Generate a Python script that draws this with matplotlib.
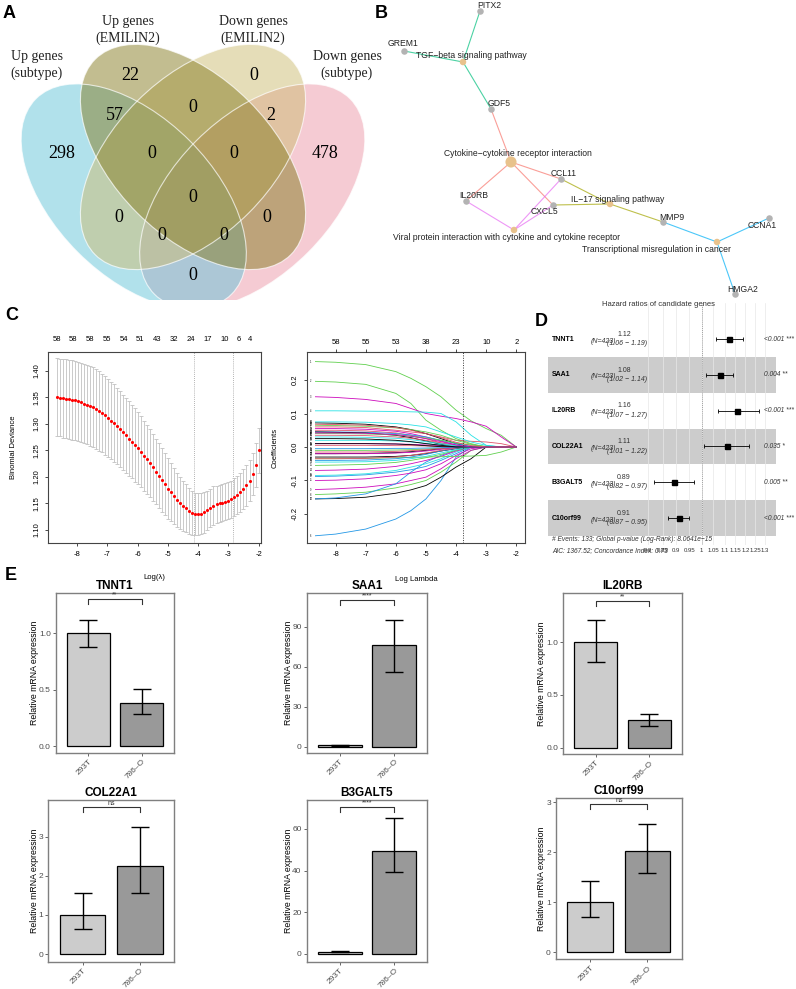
import numpy as np
import matplotlib
matplotlib.use("Agg")
import matplotlib.pyplot as plt
import matplotlib.transforms as mtransforms
from matplotlib.patches import Ellipse
from matplotlib.ticker import NullLocator

plt.rcParams["font.family"] = ["Liberation Sans", "DejaVu Sans"]
plt.rcParams["axes.unicode_minus"] = False

# ---------------- data ----------------
# A: Venn
VENN_SETS = ["Up genes\n(subtype)", "Up genes\n(EMILIN2)", "Down genes\n(EMILIN2)", "Down genes\n(subtype)"]
VENN_COLORS = ["#65C5D9", "#877D23", "#CDBD73", "#ED99A9"]
VENN_COUNTS = [298, 22, 0, 478, 57, 0, 2, 0, 0, 0, 0, 0, 0, 0, 0]

# B: gene-concept network
GENES = ["PITX2", "GREM1", "GDF5", "CCL11", "IL20RB", "CXCL5", "MMP9", "CCNA1", "HMGA2"]
PATHWAYS = ["TGF\u2212beta signaling pathway", "Cytokine\u2212cytokine receptor interaction",
            "IL\u221217 signaling pathway",
            "Viral protein interaction with cytokine and cytokine receptor",
            "Transcriptional misregulation in cancer"]
PATHWAY_GENES = [["PITX2", "GREM1", "GDF5"],
                 ["GDF5", "IL20RB", "CCL11", "CXCL5"],
                 ["CCL11", "CXCL5", "MMP9"],
                 ["IL20RB", "CCL11", "CXCL5"],
                 ["MMP9", "CCNA1", "HMGA2"]]
PATHWAY_COLORS = ["#00BF7D", "#F8766D", "#A3A500", "#E76BF3", "#00B0F6"]

# C left: cv.glmnet
CV_LOGLAM = [-8.67, -8.57, -8.47, -8.37, -8.27, -8.17, -8.07, -7.97, -7.87, -7.77,
             -7.67, -7.57, -7.48, -7.38, -7.28, -7.18, -7.08, -6.98, -6.88, -6.78,
             -6.68, -6.58, -6.48, -6.38, -6.28, -6.18, -6.08, -5.98, -5.88, -5.78,
             -5.68, -5.58, -5.48, -5.38, -5.29, -5.19, -5.09, -4.99, -4.89, -4.79,
             -4.69, -4.59, -4.49, -4.39, -4.29, -4.19, -4.09, -3.99, -3.89, -3.79,
             -3.69, -3.59, -3.49, -3.39, -3.29, -3.20, -3.10, -3.00, -2.90, -2.80,
             -2.70, -2.60, -2.50, -2.40, -2.30, -2.20, -2.10, -2.00]
CV_MEAN = [1.350, 1.349, 1.348, 1.347, 1.346, 1.345, 1.344, 1.342, 1.340, 1.338,
           1.336, 1.334, 1.331, 1.328, 1.324, 1.320, 1.316, 1.311, 1.306, 1.301,
           1.296, 1.290, 1.284, 1.278, 1.272, 1.266, 1.260, 1.254, 1.247, 1.240,
           1.233, 1.226, 1.218, 1.210, 1.202, 1.194, 1.186, 1.178, 1.171, 1.164,
           1.157, 1.151, 1.146, 1.141, 1.136, 1.132, 1.130, 1.130, 1.131, 1.133,
           1.137, 1.142, 1.146, 1.148, 1.150, 1.151, 1.153, 1.155, 1.158, 1.162,
           1.166, 1.171, 1.177, 1.184, 1.193, 1.205, 1.222, 1.250]
CV_SE = [0.073, 0.073, 0.074, 0.074, 0.074, 0.075, 0.075, 0.075, 0.075, 0.075,
         0.075, 0.075, 0.075, 0.075, 0.075, 0.074, 0.074, 0.074, 0.073, 0.073,
         0.072, 0.072, 0.071, 0.071, 0.070, 0.069, 0.069, 0.068, 0.067, 0.066,
         0.065, 0.064, 0.063, 0.062, 0.061, 0.060, 0.058, 0.057, 0.055, 0.053,
         0.051, 0.049, 0.047, 0.045, 0.043, 0.041, 0.040, 0.039, 0.038, 0.038,
         0.037, 0.036, 0.036, 0.035, 0.035, 0.035, 0.035, 0.035, 0.035, 0.036,
         0.036, 0.037, 0.038, 0.038, 0.039, 0.040, 0.041, 0.042]
CV_TOP_X = [-8.67, -8.12, -7.57, -7.02, -6.44, -5.91, -5.34, -4.79, -4.24, -3.69, -3.13, -2.66, -2.29]
CV_TOP_NZ = [58, 58, 58, 55, 54, 51, 43, 32, 24, 17, 10, 6, 4]
CV_LAMBDA_LINES = [-4.13, -2.84]

# C right: coefficient paths
COEF_X = [-8.67, -8.0, -7.0, -6.0, -5.5, -5.0, -4.5, -4.0, -3.5, -3.0, -2.5, -2.0]
R_PAL = ["black", "#DF536B", "#61D04F", "#2297E6", "#28E2E5", "#CD0BBC"]
COEF_COLOR_IDX = [2, 2, 5, 4, 1, 3, 0, 2, 5, 3, 5, 3, 4, 5, 2, 2, 0, 0, 0, 4, 2,
                  1, 5, 3, 0, 1, 4, 5, 1, 2, 3, 4, 5, 1, 0, 2, 1, 3, 4, 0, 5, 1]
COEF_PATHS = [
    [0.255, 0.253, 0.246, 0.225, 0.205, 0.180, 0.150, 0.110, 0.078, 0.055, 0.035, 0.0],
    [0.196, 0.194, 0.187, 0.160, 0.130, 0.080, 0.050, 0.025, 0.010, 0.0, 0.0, 0.0],
    [0.150, 0.148, 0.142, 0.130, 0.115, 0.100, 0.092, 0.085, 0.075, 0.062, 0.030, 0.0],
    [0.108, 0.108, 0.107, 0.106, 0.105, 0.104, 0.100, 0.075, 0.035, 0.005, 0.0, 0.0],
    [0.060, 0.060, 0.058, 0.050, 0.045, 0.040, 0.030, 0.020, 0.017, 0.015, 0.010, 0.0],
    [-0.265, -0.260, -0.245, -0.215, -0.190, -0.155, -0.100, -0.030, 0.0, 0.0, 0.0, 0.0],
    [-0.155, -0.154, -0.150, -0.138, -0.128, -0.115, -0.090, -0.060, -0.035, 0.0, 0.0, 0.0],
    [-0.142, -0.140, -0.135, -0.122, -0.112, -0.100, -0.075, -0.045, -0.010, 0.0, 0.0, 0.0],
    [-0.127, -0.125, -0.120, -0.110, -0.100, -0.090, -0.065, -0.035, -0.010, 0.0, 0.0, 0.0],
    [-0.155, -0.152, -0.140, -0.110, -0.075, -0.045, -0.025, -0.010, 0.0, 0.0, 0.0, 0.0],
    [-0.100, -0.099, -0.095, -0.085, -0.078, -0.068, -0.050, -0.025, -0.005, 0.0, 0.0, 0.0],
    [-0.088, -0.087, -0.083, -0.075, -0.068, -0.058, -0.040, -0.020, 0.0, 0.0, 0.0, 0.0],
    [-0.085, -0.084, -0.080, -0.070, -0.060, -0.050, -0.035, -0.015, 0.0, 0.0, 0.0, 0.0],
    [-0.070, -0.069, -0.066, -0.058, -0.050, -0.040, -0.028, -0.012, 0.0, 0.0, 0.0, 0.0],
    [-0.055, -0.054, -0.052, -0.046, -0.040, -0.032, -0.022, -0.010, 0.0, 0.0, 0.0, 0.0],
    [-0.035, -0.035, -0.034, -0.032, -0.031, -0.030, -0.029, -0.028, -0.027, -0.025, -0.015, 0.0],
    [-0.030, -0.030, -0.030, -0.028, -0.025, -0.020, -0.012, -0.005, 0.0, 0.0, 0.0, 0.0],
    [-0.020, -0.020, -0.019, -0.017, -0.014, -0.010, -0.005, 0.0, 0.0, 0.0, 0.0, 0.0],
    [0.072, 0.071, 0.068, 0.060, 0.052, 0.040, 0.025, 0.010, 0.0, 0.0, 0.0, 0.0],
    [0.075, 0.075, 0.074, 0.070, 0.066, 0.060, 0.045, 0.030, 0.015, 0.005, 0.0, 0.0],
    [0.065, 0.064, 0.062, 0.057, 0.052, 0.045, 0.035, 0.020, 0.008, 0.0, 0.0, 0.0],
    [0.050, 0.050, 0.048, 0.042, 0.035, 0.025, 0.012, 0.004, 0.0, 0.0, 0.0, 0.0],
    [0.055, 0.055, 0.053, 0.047, 0.040, 0.030, 0.018, 0.006, 0.0, 0.0, 0.0, 0.0],
    [0.045, 0.045, 0.044, 0.040, 0.036, 0.030, 0.020, 0.010, 0.002, 0.0, 0.0, 0.0],
    [0.045, 0.044, 0.042, 0.035, 0.028, 0.018, 0.008, 0.0, 0.0, 0.0, 0.0, 0.0],
    [0.035, 0.035, 0.034, 0.030, 0.026, 0.020, 0.012, 0.005, 0.0, 0.0, 0.0, 0.0],
    [0.030, 0.030, 0.029, 0.026, 0.022, 0.016, 0.010, 0.004, 0.0, 0.0, 0.0, 0.0],
    [0.010, 0.010, 0.010, 0.009, 0.008, 0.006, 0.004, 0.001, 0.0, 0.0, 0.0, 0.0],
    [0.005, 0.005, 0.005, 0.004, 0.004, 0.003, 0.002, 0.0, 0.0, 0.0, 0.0, 0.0],
    [-0.010, -0.010, -0.010, -0.009, -0.008, -0.006, -0.004, -0.002, 0.0, 0.0, 0.0, 0.0],
    [-0.040, -0.040, -0.039, -0.035, -0.030, -0.022, -0.012, -0.004, 0.0, 0.0, 0.0, 0.0],
    [0.020, 0.020, 0.020, 0.018, 0.015, 0.011, 0.006, 0.002, 0.0, 0.0, 0.0, 0.0],
    [-0.020, -0.020, -0.020, -0.018, -0.016, -0.012, -0.007, -0.002, 0.0, 0.0, 0.0, 0.0],
    [-0.015, -0.015, -0.015, -0.013, -0.011, -0.008, -0.004, 0.0, 0.0, 0.0, 0.0, 0.0],
    [0.010, 0.010, 0.010, 0.009, 0.007, 0.004, 0.001, 0.0, 0.0, 0.0, 0.0, 0.0],
    [0.040, 0.040, 0.039, 0.036, 0.032, 0.027, 0.020, 0.012, 0.006, 0.002, 0.0, 0.0],
    [-0.035, -0.035, -0.034, -0.030, -0.025, -0.018, -0.010, -0.003, 0.0, 0.0, 0.0, 0.0],
    [-0.005, -0.005, -0.005, -0.004, -0.004, -0.003, -0.002, 0.0, 0.0, 0.0, 0.0, 0.0],
    [-0.045, -0.045, -0.044, -0.040, -0.035, -0.028, -0.018, -0.008, 0.0, 0.0, 0.0, 0.0],
    [0.025, 0.025, 0.024, 0.020, 0.016, 0.010, 0.005, 0.0, 0.0, 0.0, 0.0, 0.0],
    [0.042, 0.042, 0.041, 0.037, 0.032, 0.025, 0.016, 0.006, 0.0, 0.0, 0.0, 0.0],
    [0.068, 0.067, 0.065, 0.058, 0.050, 0.040, 0.028, 0.014, 0.004, 0.0, 0.0, 0.0],
]
COEF_TOP_X = [-8, -7, -6, -5, -4, -3, -2]
COEF_TOP_DF = [58, 55, 53, 38, 23, 10, 2]
COEF_LAMBDA_LINE = -3.77

# D: forest plot
FOREST_GENES = ["TNNT1", "SAA1", "IL20RB", "COL22A1", "B3GALT5", "C10orf99"]
FOREST_HR = [1.12, 1.08, 1.16, 1.11, 0.89, 0.91]
FOREST_LO = [1.06, 1.02, 1.07, 1.01, 0.82, 0.87]
FOREST_HI = [1.19, 1.14, 1.27, 1.22, 0.97, 0.95]
FOREST_P = ["<0.001 ***", "0.004 **", "<0.001 ***", "0.035 *", "0.005 **", "<0.001 ***"]
FOREST_N = 423
HR_TICKS = [0.8, 0.85, 0.9, 0.95, 1, 1.05, 1.1, 1.15, 1.2, 1.25, 1.3]
HR_TICK_LABELS = ["0.8", "0.85", "0.9", "0.95", "1", "1.05", "1.1", "1.15", "1.2", "1.25", "1.3"]

# E: qPCR bars
E_GENES = ["TNNT1", "SAA1", "IL20RB", "COL22A1", "B3GALT5", "C10orf99"]
E_GROUPS = ["293T", "786\u2013O"]
E_MEAN = [[1.0, 0.38], [1.0, 76.0], [1.0, 0.26], [1.0, 2.25], [1.0, 49.2], [1.0, 2.02]]
E_LOW = [[0.88, 0.28], [0.7, 56.0], [0.81, 0.21], [0.64, 1.56], [0.75, 39.3], [0.70, 1.59]]
E_HIGH = [[1.12, 0.51], [1.3, 95.0], [1.21, 0.32], [1.57, 3.25], [1.25, 65.5], [1.43, 2.56]]
E_SIG = ["**", "****", "**", "ns", "****", "ns"]
E_BRACKET = [1.30, 110, 1.395, 3.75, 70.4, 2.96]
E_YTICKS = [[0, 0.5, 1.0], [0, 30, 60, 90], [0, 0.5, 1.0], [0, 1, 2, 3], [0, 20, 40, 60], [0, 1, 2, 3]]

# ---------------- layout ----------------
W, H = 796, 989
fig = plt.figure(figsize=(W / 100, H / 100), dpi=100)


def px_axes(x0, y0, x1, y1):
    return fig.add_axes([x0 / W, 1 - y1 / H, (x1 - x0) / W, (y1 - y0) / H])


def fig_text(x, y, s, **kw):
    fig.text(x / W, 1 - y / H, s, **kw)


for letter, (lx, ly) in zip("ABCDE", [(3, 13), (375, 13), (5, 316), (535, 321), (5, 575)]):
    fig_text(lx, ly, letter, fontsize=13, fontweight="bold", ha="left", va="center")

# ---------------- A: Venn ----------------
ax = px_axes(0, 0, 400, 300)
ax.set_xlim(0, 400)
ax.set_ylim(300, 0)
ax.axis("off")
scale = 395
ell_units = [(0.35, 0.47, 45), (0.50, 0.57, 45), (0.50, 0.57, -45), (0.65, 0.47, -45)]
draw_order = [3, 0, 2, 1]   # pink, blue, tan, olive
for k in draw_order:
    u, v, ang = ell_units[k]
    cx = 193 + (u - 0.5) * scale
    cy = 157 + (0.57 - v) * scale
    ax.add_patch(Ellipse((cx, cy), 2 * 0.35 * scale, 2 * 0.20 * scale, angle=ang,
                         facecolor=VENN_COLORS[k], alpha=0.5, edgecolor="none"))
for (u, v, ang) in ell_units:
    cx = 193 + (u - 0.5) * scale
    cy = 157 + (0.57 - v) * scale
    ax.add_patch(Ellipse((cx, cy), 2 * 0.35 * scale, 2 * 0.20 * scale, angle=ang,
                         facecolor="none", edgecolor="white", linewidth=0.8, alpha=0.7))
count_pos = [(62, 153), (130, 75), (254, 75), (325, 153), (115, 116), (193, 107), (271, 116),
             (152, 153), (234, 153), (193, 197), (119, 218), (267, 218), (162, 235), (224, 235),
             (193, 276)]
for n, (x, y) in zip(VENN_COUNTS, count_pos):
    ax.text(x, y, str(n), fontsize=13, family="Liberation Serif", ha="center", va="center")
set_pos = [(37, 65), (128, 30), (253, 30), (347, 65)]
for lab, (x, y) in zip(VENN_SETS, set_pos):
    ax.text(x, y, lab, fontsize=10, family="Liberation Serif", ha="center", va="center",
            linespacing=1.3, color="#222222")

# ---------------- B: network ----------------
ax = px_axes(390, 0, 796, 300)
ax.set_xlim(390, 796)
ax.set_ylim(300, 0)
ax.axis("off")
gene_xy = [(480, 11), (404, 51), (491, 109), (561, 179), (466, 201), (553, 205),
           (663, 222), (769, 218), (735, 294)]
gene_lab = [(489, 5), (403, 44), (499, 103), (564, 173), (474, 195), (544, 211),
            (672, 217), (762, 225), (743, 289)]
path_xy = [(463, 62), (511, 162), (610, 204), (514, 230), (717, 242)]
path_lab = [(471, 56), (518, 154), (618, 199), (507, 237), (656, 249)]
gpos = dict(zip(GENES, gene_xy))
for (px, py), genes, col in zip(path_xy, PATHWAY_GENES, PATHWAY_COLORS):
    for g in genes:
        gx, gy = gpos[g]
        ax.plot([px, gx], [py, gy], color=col, lw=0.8, alpha=0.7, zorder=1)
ax.scatter([p[0] for p in gene_xy], [p[1] for p in gene_xy], s=22, color="#B3B3B3",
           zorder=3, linewidths=0)
sizes = [22 + 14 * (len(g) - 3) ** 2 * 3 for g in PATHWAY_GENES]
ax.scatter([p[0] for p in path_xy], [p[1] for p in path_xy], s=sizes, color="#E8C28C",
           zorder=3, linewidths=0)
for name, (x, y) in zip(GENES, gene_lab):
    ax.text(x, y, name, fontsize=6.2, ha="center", va="center", color="#222222", zorder=4)
for name, (x, y) in zip(PATHWAYS, path_lab):
    ax.text(x, y, name, fontsize=6.2, ha="center", va="center", color="#222222", zorder=4)

# ---------------- C left: CV deviance ----------------
ax = px_axes(48, 352, 261, 543)
ax.errorbar(CV_LOGLAM, CV_MEAN, yerr=CV_SE, fmt="none", ecolor="#c2c2c2",
            elinewidth=0.6, capsize=1.2, capthick=0.6, zorder=1)
ax.scatter(CV_LOGLAM, CV_MEAN, s=5, color="red", zorder=3, linewidths=0)
for v in CV_LAMBDA_LINES:
    ax.axvline(v, color="#9a9a9a", ls=(0, (1, 1.5)), lw=0.6, zorder=0)
ax.set_xlim(-8.96, -1.92)
ax.set_ylim(1.0755, 1.435)
ax.set_xticks(range(-8, -1))
ax.set_yticks([1.10, 1.15, 1.20, 1.25, 1.30, 1.35, 1.40])
ax.set_yticklabels(["%.2f" % t for t in ax.get_yticks()], rotation=90, va="center")
ax.tick_params(labelsize=5.5, length=2.5, width=0.5, pad=3)
for s in ax.spines.values():
    s.set_color("#444444")
    s.set_linewidth(0.8)
top = mtransforms.blended_transform_factory(ax.transData, ax.transAxes)
for x, nz in zip(CV_TOP_X, CV_TOP_NZ):
    ax.text(x, 1.068, str(nz), transform=top, fontsize=5.5, ha="center", va="center")
ax.set_xlabel("Log(\u03bb)", fontsize=5.5)
ax.xaxis.set_label_coords(0.5, -0.162)
ax.set_ylabel("Binomial Deviance", fontsize=5.5)
ax.yaxis.set_label_coords(-0.145, 0.5)

# ---------------- C right: coefficient paths ----------------
ax = px_axes(306.7, 352, 525, 543)
for i, (path, ci) in enumerate(zip(COEF_PATHS, COEF_COLOR_IDX)):
    ax.plot(COEF_X, path, color=R_PAL[ci], lw=0.6, zorder=2)
    ax.text(-8.82, path[0], str(i + 1), fontsize=1.8, ha="center", va="center")
ax.axvline(COEF_LAMBDA_LINE, color="#333333", ls=(0, (1, 1.5)), lw=0.7)
ax.set_xlim(-8.96, -1.71)
ax.set_ylim(-0.2866, 0.2836)
ax.set_xticks(range(-8, -1))
ax.set_yticks([-0.2, -0.1, 0.0, 0.1, 0.2])
ax.set_yticklabels(["-0.2", "-0.1", "0.0", "0.1", "0.2"], rotation=90, va="center")
ax.tick_params(labelsize=5.5, length=2.5, width=0.5, pad=3)
for s in ax.spines.values():
    s.set_color("#444444")
    s.set_linewidth(0.8)
ax2 = ax.twiny()
ax2.set_xlim(ax.get_xlim())
ax2.set_xticks(COEF_TOP_X)
ax2.set_xticklabels([str(d) for d in COEF_TOP_DF])
ax2.tick_params(labelsize=5.5, length=2, width=0.5, pad=2)
for s in ax2.spines.values():
    s.set_visible(False)
ax.set_xlabel("Log Lambda", fontsize=5.5)
ax.xaxis.set_label_coords(0.5, -0.173)
ax.set_ylabel("Coefficients", fontsize=5.5)
ax.yaxis.set_label_coords(-0.13, 0.5)

# ---------------- D: forest plot ----------------
ax = px_axes(548, 303, 776, 545)
ax.set_xscale("log")
ax.set_xlim(np.exp(-0.6404), np.exp(0.3096))
ax.set_ylim(5.754, -1.006)
rows = np.arange(len(FOREST_GENES))
for r in rows:
    if r % 2 == 1:
        ax.axhspan(r - 0.5, r + 0.5, color="black", alpha=0.2, lw=0, zorder=0.5)
for t in HR_TICKS:
    ax.axvline(t, color="#e8e8e8", lw=0.5, zorder=1)
ax.axvline(1, color="#8a8a8a", ls=(0, (1, 1.5)), lw=0.6, zorder=2)
hr = np.array(FOREST_HR)
ax.errorbar(hr, rows, xerr=[hr - np.array(FOREST_LO), np.array(FOREST_HI) - hr],
            fmt="s", color="black", ms=3.6, elinewidth=0.6, capsize=1.6, capthick=0.6, zorder=3)
ax.xaxis.set_minor_locator(NullLocator())
ax.set_xticks(HR_TICKS)
ax.set_xticklabels(HR_TICK_LABELS)
ax.set_yticks([])
ax.tick_params(axis="x", length=0, pad=2, labelsize=4.3, colors="#333333")
for s in ax.spines.values():
    s.set_visible(False)
tr = mtransforms.blended_transform_factory(ax.transAxes, ax.transData)
for r, g, lo, hi, h, p in zip(rows, FOREST_GENES, FOREST_LO, FOREST_HI, FOREST_HR, FOREST_P):
    ax.text(0.0175, r, g, transform=tr, fontsize=5, fontweight="bold", ha="left", va="center")
    ax.text(0.241, r + 0.06, "(N=%d)" % FOREST_N, transform=tr, fontsize=5, style="italic",
            ha="center", va="center", color="#333333")
    ax.text(0.333, r - 0.13, "%.2f" % h, transform=tr, fontsize=5, ha="center", va="center",
            color="#333333")
    ax.text(0.346, r + 0.13, "(%.2f \u2212 %.2f)" % (lo, hi), transform=tr, fontsize=5,
            style="italic", ha="center", va="center", color="#333333")
    ax.text(0.947, r, p, transform=tr, fontsize=4.8, style="italic", ha="left", va="center",
            color="#333333", clip_on=False)
ax.text(0.0175, 5.59, "# Events: 133; Global p-value (Log-Rank): 8.0641e\u221215", transform=tr,
        fontsize=4.8, style="italic", ha="left", va="center", color="#333333", clip_on=False)
ax.text(0.0175, 5.90, "AIC: 1367.52; Concordance Index: 0.73", transform=tr,
        fontsize=4.8, style="italic", ha="left", va="center", color="#333333", clip_on=False)
fig_text(658, 304, "Hazard ratios of candidate genes", fontsize=5.5, ha="center", va="center",
         color="#333333")

# ---------------- E: bar charts ----------------
E_BOX = [(56, 592.7, 174, 753), (306.7, 592.7, 427.3, 753), (563.3, 592.7, 681.7, 754.3),
         (48.3, 800, 174, 961.7), (306.7, 800, 427.3, 961.7), (556, 798.3, 681.7, 959.3)]
E_YLAB_X = [36, 290, 542.7, 36, 290, 542.7]
E_YLIM = [(-0.062, 1.36), (-4.7, 115.5), (-0.063, 1.471), (-0.197, 3.94), (-3.7, 73.9), (-0.14, 3.08)]
E_FILL = ["#cccccc", "#999999"]
for i, gene in enumerate(E_GENES):
    x0, y0b, x1, y1b = E_BOX[i]
    ax = px_axes(x0, y0b, x1, y1b)
    x = np.arange(1, 3)
    mean = np.array(E_MEAN[i])
    ax.bar(x, mean, width=0.8, color=E_FILL, edgecolor="black", linewidth=0.9, zorder=2)
    yerr = [mean - np.array(E_LOW[i]), np.array(E_HIGH[i]) - mean]
    ax.errorbar(x, mean, yerr=yerr, fmt="none", ecolor="black", elinewidth=1.0,
                capsize=6.5, capthick=1.0, zorder=3)
    y0, y1 = E_YLIM[i]
    tip = 0.03 * (y1 - y0)
    b = E_BRACKET[i]
    ax.plot([1, 1, 2, 2], [b - tip, b, b, b - tip], color="#333333", lw=0.8, zorder=3)
    ax.text(1.5, b + 0.004 * (y1 - y0), E_SIG[i], fontsize=5, ha="center", va="bottom",
            color="#333333", clip_on=False)
    ax.set_xlim(0.4, 2.6)
    ax.set_ylim(y0, y1)
    ax.set_xticks(x)
    ax.set_xticklabels(E_GROUPS, rotation=45, ha="right", va="top", rotation_mode="anchor")
    ticks = E_YTICKS[i]
    ax.set_yticks(ticks)
    if gene in ("TNNT1", "IL20RB"):
        ax.set_yticklabels(["%.1f" % t for t in ticks])
    else:
        ax.set_yticklabels(["%d" % t for t in ticks])
    ax.tick_params(labelsize=6.0, length=2.5, width=0.6, colors="#4d4d4d", pad=1.2)
    for s in ax.spines.values():
        s.set_color("#7f7f7f")
        s.set_linewidth(1.0)
    ax.set_title(gene, fontsize=8.5, fontweight="bold", pad=3)
    ax.set_ylabel("Relative mRNA expression", fontsize=6.3)
    ax.yaxis.set_label_coords((E_YLAB_X[i] + 3 - x0) / (x1 - x0), 0.5)

fig.savefig("out.png", dpi=100)
